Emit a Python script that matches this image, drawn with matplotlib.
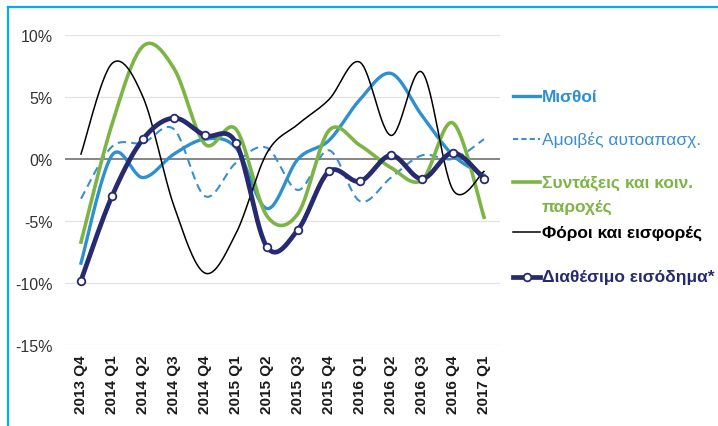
import numpy as np
import matplotlib.pyplot as plt
from matplotlib.lines import Line2D

plt.rcParams['font.family'] = ['Liberation Sans', 'DejaVu Sans']

# quarters and annual % changes
quarters = ['2013 Q4', '2014 Q1', '2014 Q2', '2014 Q3', '2014 Q4', '2015 Q1', '2015 Q2',
            '2015 Q3', '2015 Q4', '2016 Q1', '2016 Q2', '2016 Q3', '2016 Q4', '2017 Q1']
misthoi = [-8.4, 0.3, -1.5, 0.4, 1.6, 0.9, -4.0, 0.0, 1.5, 4.8, 6.9, 3.5, 0.3, -1.3]
amoives = [-3.2, 1.0, 1.3, 2.4, -3.0, -0.3, 0.9, -2.5, 0.7, -3.4, -1.5, 0.3, 0.0, 1.6]
syntaxeis = [-6.7, 2.8, 9.1, 7.3, 1.2, 2.4, -4.6, -4.4, 2.3, 1.1, -0.7, -1.7, 2.9, -4.7]
foroi = [0.4, 7.7, 5.0, -3.8, -9.2, -6.0, 0.5, 2.8, 4.8, 7.8, 1.9, 7.0, -2.5, -1.0]
diathesimo = [-9.8, -3.0, 1.6, 3.3, 1.9, 1.3, -7.1, -5.7, -1.0, -1.8, 0.3, -1.6, 0.5, -1.6]

labels = ['Μισθοί', 'Αμοιβές αυτοαπασχ.', 'Συντάξεις και κοιν.\nπαροχές',
          'Φόροι και εισφορές', 'Διαθέσιμο εισόδημα*']

c_blue = '#2E8FD2'
c_dash = '#3B8FD0'
c_green = '#7CB545'
c_black = '#000000'
c_navy = '#262B70'


def smooth(y, n=30):
    # Excel-like smoothed line (Catmull-Rom Bezier segments)
    y = np.asarray(y, dtype=float)
    x = np.arange(len(y), dtype=float)
    px = np.concatenate([[x[0]], x, [x[-1]]])
    py = np.concatenate([[y[0]], y, [y[-1]]])
    xs, ys = [], []
    t = np.linspace(0, 1, n)
    for i in range(len(y) - 1):
        p0 = np.array([px[i + 1], py[i + 1]])
        p3 = np.array([px[i + 2], py[i + 2]])
        c1 = p0 + (np.array([px[i + 2], py[i + 2]]) - np.array([px[i], py[i]])) / 6
        c2 = p3 - (np.array([px[i + 3], py[i + 3]]) - np.array([px[i + 1], py[i + 1]])) / 6
        b = ((1 - t) ** 3)[:, None] * p0 + (3 * (1 - t) ** 2 * t)[:, None] * c1 \
            + (3 * (1 - t) * t ** 2)[:, None] * c2 + (t ** 3)[:, None] * p3
        xs.append(b[:, 0])
        ys.append(b[:, 1])
    return np.concatenate(xs), np.concatenate(ys)


fig = plt.figure(figsize=(7.18, 4.27), dpi=100)
ax = fig.add_axes([0.0912, 0.1897, 0.6045, 0.726])

for v in [10, 5, -5, -10, -15]:
    ax.axhline(v, color='#E3E3E3', lw=0.9, zorder=0)
ax.axhline(0, color='#858585', lw=1.4, zorder=1)

x, y = smooth(amoives)
ax.plot(x, y, color=c_dash, lw=1.5, ls=(0, (4, 2.5)), zorder=2)
x, y = smooth(misthoi)
ax.plot(x, y, color=c_blue, lw=2.4, zorder=3)
x, y = smooth(syntaxeis)
ax.plot(x, y, color=c_green, lw=2.6, zorder=3)
x, y = smooth(foroi)
ax.plot(x, y, color=c_black, lw=1.1, zorder=4)
x, y = smooth(diathesimo)
ax.plot(x, y, color=c_navy, lw=3.4, zorder=5)
ax.plot(range(len(diathesimo)), diathesimo, ls='none', marker='o', ms=5.5,
        mfc='white', mec=c_navy, mew=1.3, zorder=6)

ax.set_xlim(-0.5, len(quarters) - 0.5)
ax.set_ylim(-15, 10)
ax.set_yticks([10, 5, 0, -5, -10, -15])
ax.set_yticklabels(['10%', '5%', '0%', '-5%', '-10%', '-15%'], fontsize=11.5, color='#333333')
ax.set_xticks(range(len(quarters)))
ax.set_xticklabels(quarters, rotation=90, fontsize=11, fontweight='bold', color='#1a1a1a')
ax.tick_params(axis='both', length=0)
ax.tick_params(axis='y', pad=9)
ax.tick_params(axis='x', pad=7)
for s in ax.spines.values():
    s.set_visible(False)

# legend drawn at the right
W, H = 718, 427
entries = [
    (labels[0], c_blue, c_blue, '-', 2.4, 'bold', 97, False),
    (labels[1], c_dash, c_dash, (0, (2.5, 1.5)), 1.5, 'normal', 140, False),
    (labels[2], c_green, c_green, '-', 2.6, 'bold', 183, False),
    (labels[3], c_black, c_black, '-', 1.1, 'bold', 233, False),
    (labels[4], c_navy, c_navy, '-', 3.4, 'bold', 278, True),
]
for text, lc, tc, ls, lw, fw, ypx, mk in entries:
    yf = 1 - ypx / H
    fig.add_artist(Line2D([513 / W, 540 / W], [yf, yf], color=lc, ls=ls, lw=lw,
                          transform=fig.transFigure))
    if mk:
        fig.add_artist(Line2D([526.5 / W], [yf], ls='none', marker='o', ms=5.5, mfc='white',
                              mec=lc, mew=1.3, transform=fig.transFigure))
    for k, part in enumerate(text.split('\n')):
        fig.text(542 / W, yf - k * 24 / H, part, color=tc, fontsize=12.5, fontweight=fw,
                 va='center', ha='left')

# blue frame (top and left edges visible)
fig.add_artist(Line2D([8 / W, 1], [1 - 8 / H, 1 - 8 / H], color='#00AEEF', lw=1.6,
                      transform=fig.transFigure))
fig.add_artist(Line2D([8 / W, 8 / W], [0, 1 - 8 / H], color='#00AEEF', lw=1.6,
                      transform=fig.transFigure))

fig.savefig('out.png', dpi=100)
